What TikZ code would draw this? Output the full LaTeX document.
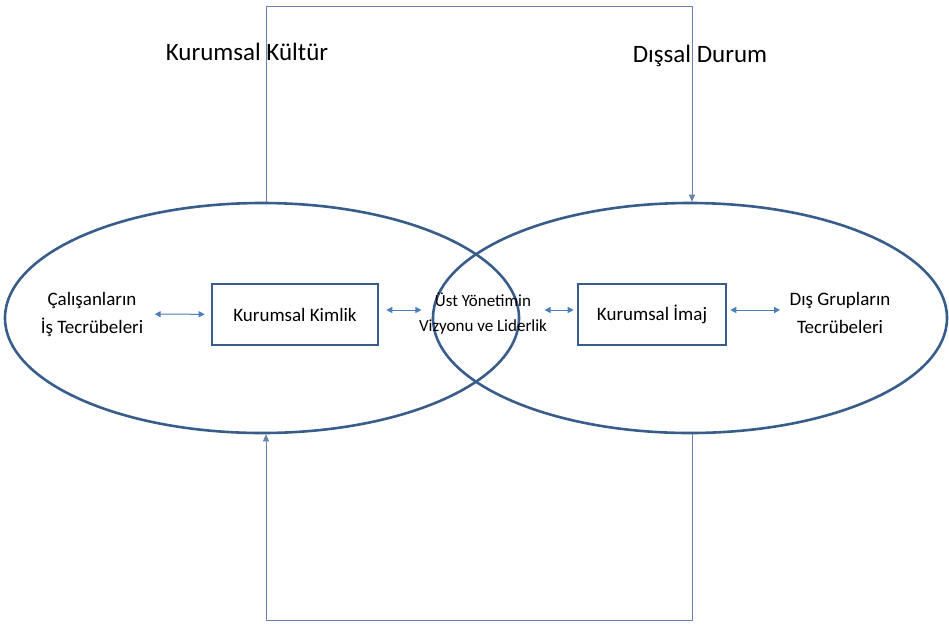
\documentclass[tikz,border=0pt]{standalone}
\usepackage{fontspec}
\setmainfont{Carlito}
\usetikzlibrary{shapes.geometric,arrows.meta}
\definecolor{cizgi}{RGB}{56,93,138}
\definecolor{okrenk}{RGB}{74,126,187}
\definecolor{baglanti}{RGB}{105,132,168}
\tikzset{
	halka/.style={ellipse, draw=cizgi, line width=2.6pt, minimum width=514pt, minimum height=230pt, inner sep=0pt},
	kutu/.style={draw=cizgi, line width=2.6pt, minimum height=61pt, font=\fontsize{19}{23}\selectfont},
	yazi/.style={align=center, font=\fontsize{19}{28}\selectfont},
	ikiok/.style={{Triangle[width=6pt,length=6pt]}-{Triangle[width=6pt,length=6pt]}, draw=okrenk, line width=1pt},
	tekok/.style={-{Triangle[width=6pt,length=7pt]}, draw=baglanti, line width=1pt}
}
\begin{document}
\begin{tikzpicture}[x=1pt, y=-1pt]

	\useasboundingbox (0,0) rectangle (949,624);

	\node[halka] (kultur) at (262,318) {};
	\node[halka] (durum) at (690,318) {};

	\node[font=\fontsize{25}{30}\selectfont] (kulturyazi) at (247,52) {Kurumsal Kültür};
	\node[font=\fontsize{25}{30}\selectfont] (durumyazi) at (700,56) {Dışsal Durum};

	\node[yazi] (calisan) at (92,314) {Çalışanların\\İş Tecrübeleri};
	\node[kutu, minimum width=166pt] (kimlik) at (295,314.5) {Kurumsal Kimlik};
	\node[yazi, font=\fontsize{17}{25}\selectfont] (ust) at (483,314) {Üst Yönetimin\\Vizyonu ve Liderlik};
	\node[kutu, minimum width=148pt] (imaj) at (652,314.5) {Kurumsal İmaj};
	\node[yazi] (dis) at (840,313) {Dış Grupların\\Tecrübeleri};

	\coordinate (tepe) at (0,6);
	\coordinate (dip) at (0,620);

	\draw[ikiok, shorten <=8pt, shorten >=6pt] (calisan) -- (kimlik);
	\draw[ikiok, shorten <=7pt, shorten >=-6pt] (kimlik.east |- 0,310) -- (ust.west |- 0,310);
	\draw[ikiok, shorten <=-6pt, shorten >=3pt] (ust.east |- 0,310) -- (imaj.west |- 0,310);
	\draw[ikiok, shorten <=3pt, shorten >=6pt] (imaj.east |- 0,310) -- (dis.west |- 0,310);

	\draw[tekok] ([xshift=4pt]kultur.north) -- ([xshift=4pt]kultur.north |- tepe) -| ([xshift=2pt]durum.north);
	\draw[tekok] ([xshift=2pt]durum.south) -- ([xshift=2pt]durum.south |- dip) -| ([xshift=4pt]kultur.south);

\end{tikzpicture}
\end{document}
